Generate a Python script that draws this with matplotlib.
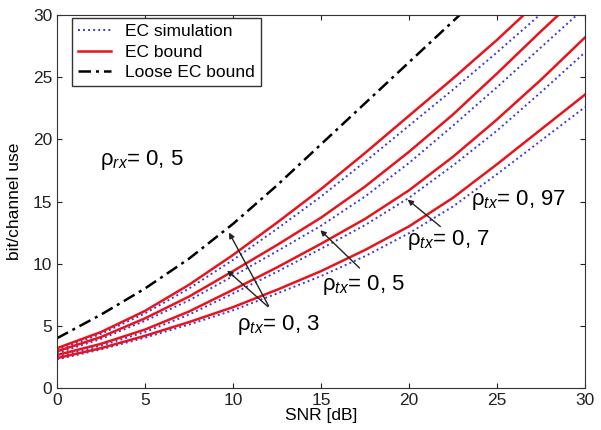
import numpy as np
import matplotlib
matplotlib.use("Agg")
import matplotlib.pyplot as plt

plt.rcParams['font.family'] = ['Liberation Sans', 'DejaVu Sans']
plt.rcParams['mathtext.fontset'] = 'custom'
plt.rcParams['mathtext.rm'] = 'Liberation Sans'
plt.rcParams['mathtext.it'] = 'Liberation Sans:italic'

# SNR grid [dB]
snr = [0, 2.5, 5, 7.5, 10, 12.5, 15, 17.5, 20, 22.5, 25, 27.5, 30]

# loose EC bound
loose = [4.0, 5.9, 8.0, 10.4, 13.2, 16.3, 19.6, 22.9, 26.2, 29.5, 32.8, 36.1, 39.4]

# EC bound (red) and EC simulation (blue), one per rho_tx
bound_1 = [3.2, 4.5, 6.2, 8.3, 10.7, 13.3, 16.0, 18.9, 21.9, 24.9, 28.0, 31.3, 34.4]
sim_1 = [3.05, 4.35, 6.0, 8.0, 10.3, 12.8, 15.4, 18.2, 21.1, 24.0, 27.0, 30.1, 33.2]
bound_2 = [2.95, 4.1, 5.6, 7.35, 9.4, 11.5, 13.7, 16.2, 19.0, 22.0, 25.3, 28.7, 32.0]
sim_2 = [2.8, 3.95, 5.4, 7.05, 9.0, 11.0, 13.05, 15.4, 18.1, 21.1, 24.2, 27.4, 30.6]
bound_3 = [2.65, 3.55, 4.7, 6.15, 7.9, 9.7, 11.6, 13.6, 15.9, 18.6, 21.6, 24.8, 28.2]
sim_3 = [2.5, 3.4, 4.5, 5.9, 7.6, 9.35, 11.2, 13.1, 15.3, 17.9, 20.7, 23.8, 27.0]
bound_4 = [2.4, 3.2, 4.2, 5.3, 6.5, 7.9, 9.4, 11.1, 13.0, 15.3, 18.0, 20.8, 23.6]
sim_4 = [2.3, 3.1, 4.05, 5.1, 6.25, 7.6, 9.0, 10.6, 12.45, 14.6, 17.2, 19.9, 22.6]

bounds = [bound_1, bound_2, bound_3, bound_4]
sims = [sim_1, sim_2, sim_3, sim_4]

fig = plt.figure(figsize=(6.01, 4.30), dpi=100)
ax = fig.add_axes([0.0948, 0.0977, 0.8786, 0.8673])

for i in range(4):
    ax.plot(snr, sims[i], linestyle=(0, (1, 1.6)), color='#3a3ae0', linewidth=1.4,
            label='EC simulation' if i == 0 else None)
    ax.plot(snr, bounds[i], '-', color='#e8141c', linewidth=1.8,
            label='EC bound' if i == 0 else None)
ax.plot(snr, loose, linestyle=(0, (5, 2, 1.2, 2)), color='black', linewidth=1.8,
        label='Loose EC bound')

ax.set_xlim(0, 30)
ax.set_ylim(0, 30)
ax.set_xticks(range(0, 31, 5))
ax.set_yticks(range(0, 31, 5))
ax.tick_params(direction='in', top=True, right=True, labelsize=12.5, colors='#222222')
for s in ax.spines.values():
    s.set_color('#333333')
ax.set_xlabel('SNR [dB]', fontsize=12.5, labelpad=0)
ax.set_ylabel('bit/channel use', fontsize=12.5, labelpad=8)

leg = ax.legend(loc='upper left', bbox_to_anchor=(0.028, 0.992), borderaxespad=0,
                fontsize=12.5, fancybox=False, framealpha=1, edgecolor='#333333',
                handlelength=1.9, labelspacing=0.3, borderpad=0.35, handletextpad=0.8)

fs = 16
ax.text(2.45, 18.3, r'ρ$_{rx}$= 0, 5', fontsize=fs, va='center')
ax.text(23.5, 15.1, r'ρ$_{tx}$= 0, 97', fontsize=fs, va='center')
ax.text(19.9, 11.9, r'ρ$_{tx}$= 0, 7', fontsize=fs, va='center')
ax.text(15.05, 8.3, r'ρ$_{tx}$= 0, 5', fontsize=fs, va='center')
ax.text(10.2, 5.1, r'ρ$_{tx}$= 0, 3', fontsize=fs, va='center')

arrow = dict(arrowstyle='-|>', color='#222222', lw=1.0, mutation_scale=8)
ax.annotate('', xy=(9.7, 12.7), xytext=(12.1, 6.4), arrowprops=arrow)
ax.annotate('', xy=(9.55, 9.6), xytext=(12.1, 6.4), arrowprops=arrow)
ax.annotate('', xy=(14.85, 12.85), xytext=(17.3, 9.5), arrowprops=arrow)
ax.annotate('', xy=(19.8, 15.3), xytext=(21.9, 12.85), arrowprops=arrow)

fig.savefig('out.png', dpi=100)
